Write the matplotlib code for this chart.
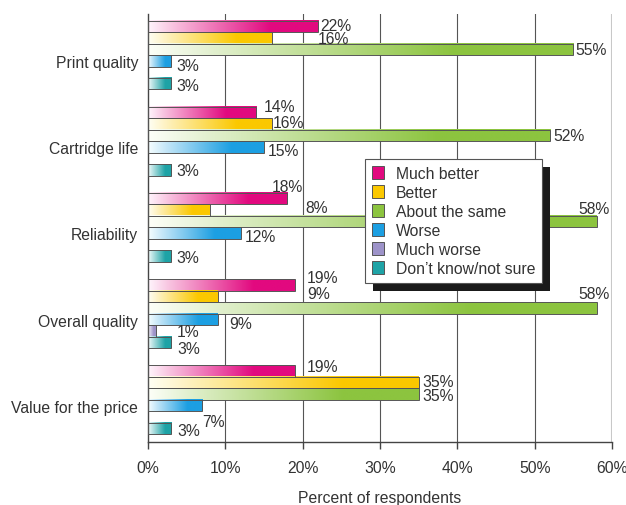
import numpy as np
import matplotlib
matplotlib.use("Agg")
import matplotlib.pyplot as plt
from matplotlib.colors import LinearSegmentedColormap, to_rgb
from matplotlib.patches import Patch, Rectangle

categories = ["Print quality", "Cartridge life", "Reliability",
              "Overall quality", "Value for the price"]
series = ["Much better", "Better", "About the same", "Worse",
          "Much worse", "Don\u2019t know/not sure"]

much_better = [22, 14, 18, 19, 19]
better = [16, 16, 8, 9, 35]
about_same = [55, 52, 58, 58, 35]
worse = [3, 15, 12, 9, 7]
much_worse = [0, 0, 0, 1, 0]
dont_know = [3, 3, 3, 3, 3]

values = [much_better, better, about_same, worse, much_worse, dont_know]
colors = ["#e2097f", "#fbc800", "#8cc43f", "#1c9fe2", "#9d93c9", "#1ea3a6"]

# label nudges in pixels (dx, dy down) from the bar end, per category / series
label_offsets = [
    [(2, -1), (46, 1), (2, 0), (5, 5), None, (5, 2)],
    [(7, -6), (1, -1), (3, 0), (4, 4), None, (5, 1)],
    [(-15, -12), (96, -3), (-18, -13), (4, 3), None, (5, 1)],
    [(12, -7), (90, -3), (-18, -14), (12, 4), (21, 1), (6, 6)],
    [(12, -5), (4, -1), (4, 1), (0, 16), None, (6, 2)],
]

plt.rcParams["font.family"] = ["Liberation Sans", "DejaVu Sans"]
text_col = "#333333"
fs = 11.3

fig = plt.figure(figsize=(6.26, 5.06), dpi=100)
ax = fig.add_axes([148 / 626, 63 / 506, 464 / 626, 428 / 506])

bar_h = 0.8 / 6
grad = np.linspace(0, 1, 256).reshape(1, -1)

for j, (vals, col) in enumerate(zip(values, colors)):
    rgb = np.array(to_rgb(col))
    light = np.clip(0.96 * np.ones(3) + 0.06 * rgb, 0, 1)
    mid = 0.75 * np.ones(3) + 0.25 * rgb
    cmap = LinearSegmentedColormap.from_list(
        "g%d" % j, [(0, light), (0.15, mid), (0.72, rgb), (1, rgb)])
    for i, v in enumerate(vals):
        yc = i - 0.4 + bar_h / 2 + j * bar_h
        if v <= 0:
            continue
        ax.imshow(grad, cmap=cmap, aspect="auto", interpolation="bilinear",
                  extent=(0, v, yc + bar_h / 2, yc - bar_h / 2), zorder=2)
        ax.add_patch(Rectangle((0, yc - bar_h / 2), v, bar_h, fill=False,
                               edgecolor="#555555", linewidth=0.7, zorder=3))
        off = label_offsets[i][j]
        ax.annotate("%d%%" % v, (v, yc), xytext=(off[0], -off[1]),
                    textcoords="offset pixels", ha="left", va="center",
                    fontsize=fs, color=text_col, zorder=6)

ax.set_xlim(0, 60)
ax.set_ylim(4.49, -0.476)

ax.set_xticks(range(0, 61, 10))
ax.set_xticklabels(["%d%%" % t for t in range(0, 61, 10)])
ax.set_yticks([i + 0.07 for i in range(len(categories))])
ax.set_yticklabels(categories)
ax.tick_params(axis="y", length=0, pad=7, labelsize=fs, labelcolor=text_col)
ax.tick_params(axis="x", length=5, width=1, color="#444444", pad=8,
               labelsize=fs, labelcolor=text_col)
ax.set_xlabel("Percent of respondents", fontsize=fs, color=text_col, labelpad=11)

for t in range(10, 60, 10):
    ax.axvline(t, color="#555555", linewidth=0.8, zorder=1)
ax.axvline(60, color="#c8c8c8", linewidth=1.5, zorder=1)

for s in ["top", "right"]:
    ax.spines[s].set_visible(False)
ax.spines["left"].set_color("#444444")
ax.spines["bottom"].set_color("#444444")
ax.spines["left"].set_linewidth(1)
ax.spines["bottom"].set_linewidth(1)

handles = [Patch(facecolor=c, edgecolor="#555555", linewidth=0.7) for c in colors]
leg = ax.legend(handles, series, loc="upper left", bbox_to_anchor=(0.468, 0.661),
                fontsize=fs, frameon=True, fancybox=False, framealpha=1,
                edgecolor="#555555", handlelength=0.75, handleheight=0.85,
                handletextpad=0.75, labelspacing=0.25, borderpad=0.45,
                borderaxespad=0)
leg.set_zorder(7)
leg.get_frame().set_linewidth(0.8)
for txt in leg.get_texts():
    txt.set_color(text_col)

fig.canvas.draw()
bb = leg.get_window_extent().transformed(ax.transAxes.inverted())
dx = 8 / 464
dy = 8 / 428
ax.add_patch(Rectangle((bb.x0 + dx, bb.y0 - dy), bb.width, bb.height,
                       transform=ax.transAxes, facecolor="#1a1a1a",
                       edgecolor="none", zorder=6.5, clip_on=False))

fig.savefig("out.png", dpi=100)
